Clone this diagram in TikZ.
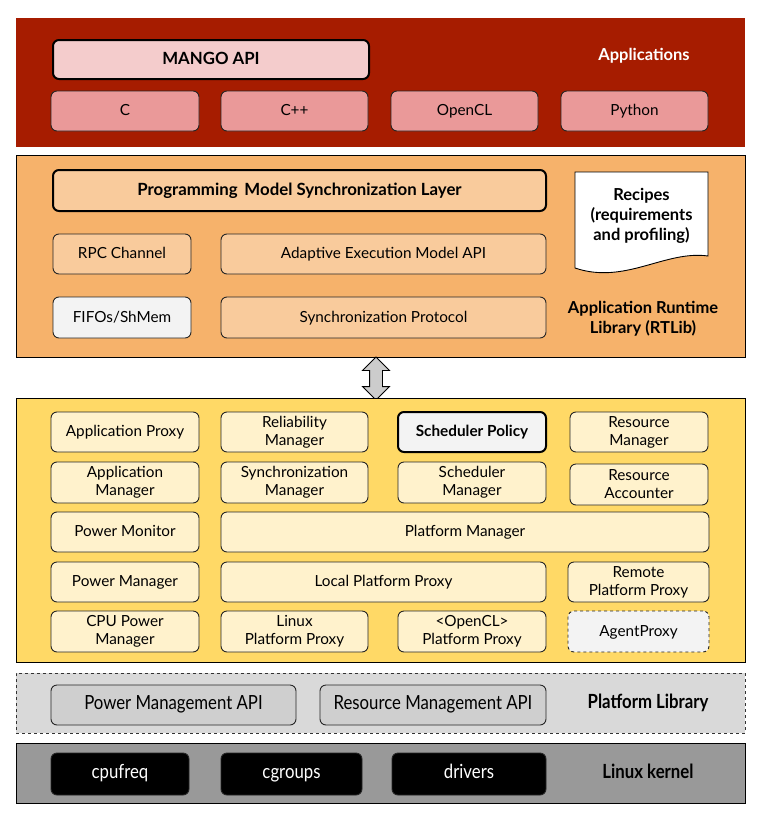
\documentclass[tikz,border=0pt]{standalone}
\usepackage{fontspec}
\setmainfont{Lato}
\newfontfamily\narrowfont[FakeStretch=0.86]{Lato}
\usepackage{xcolor}
\usetikzlibrary{shapes.arrows}
\definecolor{appred}{HTML}{A61C00}
\definecolor{mango}{HTML}{F4CCCC}
\definecolor{lang}{HTML}{EA9999}
\definecolor{rtorange}{HTML}{F6B26B}
\definecolor{rtbox}{HTML}{F9CB9C}
\definecolor{lgray}{HTML}{F3F3F3}
\definecolor{bbqyellow}{HTML}{FFD966}
\definecolor{bbqbox}{HTML}{FFF2CC}
\definecolor{plgray}{HTML}{D9D9D9}
\definecolor{plbox}{HTML}{CFCFCF}
\definecolor{kgray}{HTML}{999999}

\tikzset{
  layer/.style={minimum width=729, inner sep=0, draw=black, line width=0.9},
  box/.style={draw=black!85, rounded corners=6, line width=0.9, inner sep=0,
    align=center, font=\fontsize{15.3}{18}\selectfont},
  one/.style={text height=0.92em, text depth=0pt},
  strong/.style={line width=2, draw=black, font=\fontsize{16.8}{20}\selectfont\bfseries},
  lbl/.style={align=center, font=\fontsize{16.5}{20}\selectfont\bfseries},
  narrow/.style={font=\narrowfont\fontsize{19.5}{22}\selectfont},
  narrowlbl/.style={font=\narrowfont\fontsize{19.5}{22}\selectfont\bfseries}
}

\begin{document}
\begin{tikzpicture}[x=1pt, y=-1pt]
\useasboundingbox (0,0) rectangle (760,822);

% applications
\node[layer, draw=none, fill=appred, minimum height=129] (apps) at (380.5,82.5) {};
\node[box, strong, one, fill=mango, minimum width=316, minimum height=39] (mango) at (211,59.5) {MANGO API};
\node[box, one, fill=lang, minimum width=148, minimum height=40] (c) at (125,111) {C};
\node[box, one, fill=lang, minimum width=147, minimum height=40] (cpp) at (294.5,111) {C++};
\node[box, one, fill=lang, minimum width=147, minimum height=40] (ocl) at (464.5,111) {OpenCL};
\node[box, one, fill=lang, minimum width=147, minimum height=40] (py) at (634.5,111) {Python};
\node[lbl, one, text=white] (appslbl) at (644,56) {Applications};

% runtime library
\node[layer, fill=rtorange, minimum height=202] (rtlib) at (380.5,256) {};
\node[box, strong, one, fill=rtbox, minimum width=493, minimum height=41] (pmsl) at (299.5,190.5) {Programming\, Model Synchronization Layer};
\node[box, one, fill=rtbox, minimum width=138, minimum height=40] (rpc) at (122,254) {RPC Channel};
\node[box, one, fill=rtbox, minimum width=325, minimum height=40] (aem) at (383.5,254) {Adaptive Execution Model API};
\node[box, one, fill=lgray, minimum width=138, minimum height=41] (fifo) at (122,317.5) {FIFOs/ShMem};
\node[box, one, fill=rtbox, minimum width=325, minimum height=41] (sync) at (383.5,317.5) {Synchronization Protocol};
\draw[fill=white, line width=0.9] (575,172) -- (708,172) -- (708,256)
  .. controls (665,250) and (625,285) .. (575,268) -- cycle;
\node[lbl] (recipes) at (641.5,216) {Recipes\\(requirements\\and profiling)};
\node[lbl] (rtlbl) at (643,319) {Application Runtime\\Library (RTLib)};

% link
\node[double arrow, draw=black, fill=black!20, line width=0.9, rotate=90,
  minimum height=43, minimum width=26, inner sep=6, double arrow head extend=7] (link) at (376,378.5) {};

% resource manager
\node[layer, fill=bbqyellow, minimum height=264] (bbq) at (380.5,530) {};
\node[box, one, fill=bbqbox, minimum width=148, minimum height=40] (approxy) at (125,432) {Application Proxy};
\node[box, fill=bbqbox, minimum width=147, minimum height=40] (relman) at (294.5,432) {Reliability\\Manager};
\node[box, strong, one, fill=lgray, minimum width=148, minimum height=40,
  font=\fontsize{15.3}{18}\selectfont\bfseries] (schedpol) at (472,432) {Scheduler Policy};
\node[box, fill=bbqbox, minimum width=138, minimum height=40] (resman) at (639,432) {Resource\\Manager};
\node[box, fill=bbqbox, minimum width=148, minimum height=41] (appman) at (125,482.5) {Application\\Manager};
\node[box, fill=bbqbox, minimum width=147, minimum height=41] (syncman) at (294.5,482.5) {Synchronization\\Manager};
\node[box, fill=bbqbox, minimum width=148, minimum height=41] (schedman) at (472,482.5) {Scheduler\\Manager};
\node[box, fill=bbqbox, minimum width=138, minimum height=41] (resacc) at (639,484.5) {Resource\\Accounter};
\node[box, one, fill=bbqbox, minimum width=148, minimum height=40] (powmon) at (125,532) {Power Monitor};
\node[box, one, fill=bbqbox, minimum width=488, minimum height=40] (platman) at (465,532) {Platform Manager};
\node[box, one, fill=bbqbox, minimum width=148, minimum height=40] (powman) at (125,582) {Power Manager};
\node[box, one, fill=bbqbox, minimum width=325, minimum height=40] (lpp) at (383.5,582) {Local Platform Proxy};
\node[box, fill=bbqbox, minimum width=141, minimum height=40] (rpp) at (638.5,582) {Remote\\Platform Proxy};
\node[box, fill=bbqbox, minimum width=148, minimum height=41] (cpupm) at (125,631.5) {CPU Power\\Manager};
\node[box, fill=bbqbox, minimum width=147, minimum height=41] (lnxpp) at (294.5,631.5) {Linux\\Platform Proxy};
\node[box, fill=bbqbox, minimum width=148, minimum height=41] (oclpp) at (472,631.5) {<OpenCL>\\Platform Proxy};
\node[box, one, dashed, fill=lgray, minimum width=141, minimum height=41] (agent) at (638.5,631.5) {AgentProxy};

% platform library
\node[layer, dashed, draw=black!80, fill=plgray, minimum height=60] (plib) at (380.5,703) {};
\node[box, narrow, one, fill=plbox, minimum width=245, minimum height=40] (pmapi) at (173.5,705) {Power Management API};
\node[box, narrow, one, fill=plbox, minimum width=226, minimum height=40] (rmapi) at (433,705) {Resource Management API};
\node[narrowlbl, one] (pllbl) at (648,704) {Platform Library};

% kernel
\node[layer, fill=kgray, minimum height=60] (kernel) at (380.5,773) {};
\node[box, narrow, one, fill=black, text=white, minimum width=138, minimum height=42] (cpufreq) at (120,774) {cpufreq};
\node[box, narrow, one, fill=black, text=white, minimum width=141, minimum height=42] (cgroups) at (291.5,774) {cgroups};
\node[box, narrow, one, fill=black, text=white, minimum width=154, minimum height=42] (drivers) at (469,774) {drivers};
\node[narrowlbl, one] (klbl) at (648,774) {Linux kernel};
\end{tikzpicture}
\end{document}
